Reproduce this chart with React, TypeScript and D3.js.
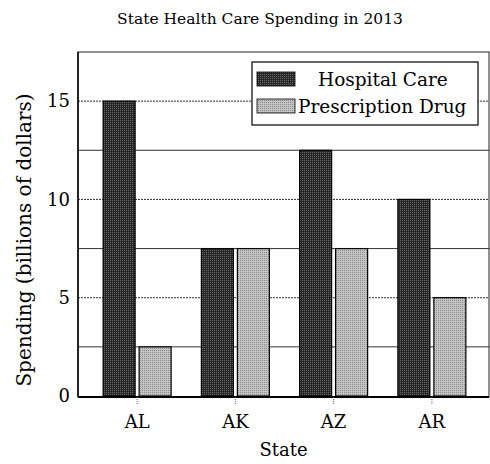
import { useEffect, useRef } from "react";
import * as d3 from "d3";

const states = ["AL", "AK", "AZ", "AR"];
const hospitalCare = [15, 7.5, 12.5, 10];
const prescriptionDrug = [2.5, 7.5, 7.5, 5];
const seriesNames = ["Hospital Care", "Prescription Drug"];
const yTicks = [0, 5, 10, 15];
const gridValues = [2.5, 5, 7.5, 10, 12.5, 15];

const W = 490;
const H = 464;
const m = { top: 52, right: 1, bottom: 67, left: 78 };
const font = "'DejaVu Serif', 'Liberation Serif', serif";

export default function App() {
  const ref = useRef<SVGSVGElement>(null);

  useEffect(() => {
    if (!ref.current) return;
    const svg = d3.select(ref.current);
    svg.selectAll("*").remove();

    const x0 = m.left;
    const x1 = W - m.right;
    const y0 = H - m.bottom;
    const y1 = m.top;

    const x = d3.scaleBand<string>().domain(states).range([x0 + 10, x1 - 8]);
    const y = d3.scaleLinear().domain([0, 17.5]).range([y0 - 1, y1]);
    const barW = 32;
    const gap = 4;

    const defs = svg.append("defs");
    const mkPattern = (id: string, base: string, dot: string) => {
      const p = defs
        .append("pattern")
        .attr("id", id)
        .attr("width", 2)
        .attr("height", 2)
        .attr("patternUnits", "userSpaceOnUse");
      p.append("rect").attr("width", 2).attr("height", 2).attr("fill", base);
      p.append("rect").attr("width", 1).attr("height", 1).attr("fill", dot);
    };
    mkPattern("hosp", "#262626", "#6a6a6a");
    mkPattern("drug", "#c4c4c4", "#8a8a8a");
    const fills = ["url(#hosp)", "url(#drug)"];

    svg.append("rect").attr("width", W).attr("height", H).attr("fill", "#fff");

    // grid
    svg
      .append("g")
      .selectAll("line")
      .data(gridValues)
      .join("line")
      .attr("x1", x0)
      .attr("x2", x1)
      .attr("y1", (d) => y(d))
      .attr("y2", (d) => y(d))
      .attr("stroke", "#333")
      .attr("stroke-width", 1)
      .attr("stroke-dasharray", (d) => (d % 5 === 0 ? "2,1" : null));

    // bars
    const data = states.map((s, i) => ({ s, vals: [hospitalCare[i], prescriptionDrug[i]] }));
    const g = svg.append("g");
    data.forEach((d) => {
      const cx = (x(d.s) ?? 0) + x.bandwidth() / 2;
      d.vals.forEach((v, k) => {
        const left = k === 0 ? cx - gap / 2 - barW : cx + gap / 2;
        g.append("rect")
          .attr("x", left)
          .attr("y", y(v))
          .attr("width", barW)
          .attr("height", y(0) - y(v))
          .attr("fill", fills[k])
          .attr("stroke", "#000")
          .attr("stroke-width", 1.2);
      });
    });

    // frame
    svg
      .append("rect")
      .attr("x", x0)
      .attr("y", y1)
      .attr("width", x1 - x0)
      .attr("height", y0 - y1)
      .attr("fill", "none")
      .attr("stroke", "#222")
      .attr("stroke-width", 1);
    svg
      .append("line")
      .attr("x1", x0)
      .attr("x2", x1)
      .attr("y1", y0)
      .attr("y2", y0)
      .attr("stroke", "#000")
      .attr("stroke-width", 2);
    svg
      .append("line")
      .attr("x1", x0)
      .attr("x2", x0)
      .attr("y1", y1)
      .attr("y2", y0)
      .attr("stroke", "#000")
      .attr("stroke-width", 1.5);

    // y tick labels
    svg
      .append("g")
      .selectAll("text")
      .data(yTicks)
      .join("text")
      .attr("x", x0 - 8)
      .attr("y", (d) => y(d))
      .attr("dy", "0.35em")
      .attr("text-anchor", "end")
      .attr("font-family", font)
      .attr("font-size", 18)
      .text((d) => d);

    // x ticks + labels
    const xg = svg.append("g");
    states.forEach((s) => {
      const cx = (x(s) ?? 0) + x.bandwidth() / 2;
      xg.append("line")
        .attr("x1", cx)
        .attr("x2", cx)
        .attr("y1", y0)
        .attr("y2", y0 + 8)
        .attr("stroke", "#666")
        .attr("stroke-dasharray", "1,1");
      xg.append("text")
        .attr("x", cx)
        .attr("y", y0 + 31)
        .attr("text-anchor", "middle")
        .attr("font-family", font)
        .attr("font-size", 18)
        .text(s);
    });

    // titles
    svg
      .append("text")
      .attr("x", 260)
      .attr("y", 24)
      .attr("text-anchor", "middle")
      .attr("font-family", font)
      .attr("font-size", 15.5)
      .text("State Health Care Spending in 2013");
    svg
      .append("text")
      .attr("x", (x0 + x1) / 2)
      .attr("y", 456)
      .attr("text-anchor", "middle")
      .attr("font-family", font)
      .attr("font-size", 18)
      .text("State");
    svg
      .append("text")
      .attr("transform", `translate(31,240) rotate(-90)`)
      .attr("text-anchor", "middle")
      .attr("font-family", font)
      .attr("font-size", 20)
      .text("Spending (billions of dollars)");

    // legend
    const lg = svg.append("g").attr("transform", "translate(252,62)");
    lg.append("rect")
      .attr("width", 226)
      .attr("height", 63)
      .attr("fill", "#fff")
      .attr("stroke", "#000")
      .attr("stroke-width", 1.2);
    seriesNames.forEach((name, i) => {
      const ry = 10 + i * 27;
      lg.append("rect")
        .attr("x", 5)
        .attr("y", ry)
        .attr("width", 38)
        .attr("height", 14)
        .attr("fill", fills[i])
        .attr("stroke", "#000")
        .attr("stroke-width", 0.8);
      lg.append("text")
        .attr("x", i === 0 ? 66 : 46)
        .attr("y", ry + 14)
        .attr("font-family", font)
        .attr("font-size", 18.5)
        .text(name);
    });
  }, []);

  return (
    <svg
      ref={ref}
      width={W}
      height={H}
      style={{ position: "absolute", left: 0, top: 0, display: "block" }}
    />
  );
}
